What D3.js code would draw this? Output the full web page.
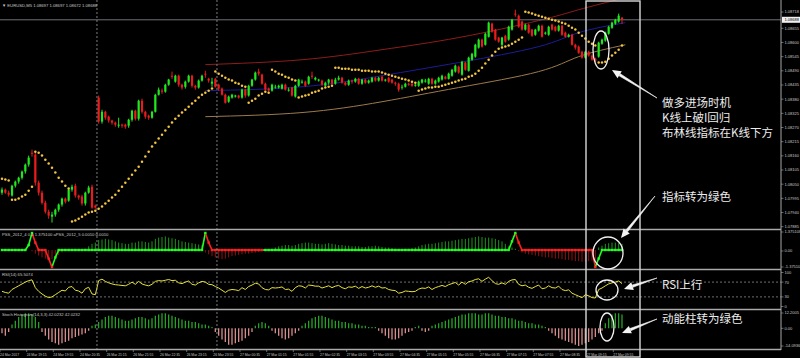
<!DOCTYPE html>
<html>
<head>
<meta charset="utf-8">
<script src="https://cdn.jsdelivr.net/npm/d3@7"></script>
<style>
html, body { margin: 0; padding: 0; background: #000; }
svg { display: block; }
</style>
</head>
<body>
<div id="chart"></div>
<script>
'use strict';

// EURUSD M5 bars: [open, high, low, close]
var candles = [
[1.08017,1.08037,1.08009,1.08029],[1.08029,1.08033,1.08013,1.08017],[1.08017,1.08025,1.08002,1.08009],[1.08006,1.08048,1.08002,1.08044],
[1.08044,1.08064,1.08037,1.08060],[1.08060,1.08079,1.08052,1.08075],[1.08075,1.08103,1.08068,1.08099],[1.08099,1.08130,1.08091,1.08126],
[1.08126,1.08161,1.08118,1.08153],[1.08172,1.08184,1.08157,1.08168],[1.08165,1.08172,1.08044,1.08056],[1.08056,1.08064,1.08006,1.08017],
[1.08017,1.08025,1.07971,1.07978],[1.07978,1.07986,1.07936,1.07943],[1.07943,1.07951,1.07916,1.07928],[1.07924,1.07943,1.07901,1.07932],
[1.07932,1.07955,1.07924,1.07951],[1.07951,1.07975,1.07943,1.07971],[1.07971,1.07998,1.07963,1.07994],[1.07994,1.07998,1.07975,1.07982],
[1.07986,1.08033,1.07982,1.08029],[1.08029,1.08048,1.08021,1.08040],[1.08044,1.08052,1.07998,1.08006],[1.08006,1.08009,1.07990,1.07998],
[1.08002,1.08009,1.07967,1.07975],[1.07975,1.08021,1.07967,1.08017],[1.08017,1.08044,1.08013,1.08037],[1.08040,1.08048,1.07955,1.07959],
[1.07967,1.07971,1.07955,1.07959],
[1.08386,1.08394,1.08285,1.08293],[1.08293,1.08339,1.08285,1.08331],[1.08331,1.08335,1.08300,1.08308],[1.08312,1.08316,1.08289,1.08297],
[1.08297,1.08300,1.08281,1.08289],[1.08289,1.08293,1.08273,1.08281],[1.08277,1.08308,1.08269,1.08281],[1.08281,1.08285,1.08269,1.08277],
[1.08281,1.08285,1.08265,1.08273],[1.08277,1.08304,1.08269,1.08300],[1.08300,1.08339,1.08293,1.08335],[1.08335,1.08339,1.08297,1.08304],
[1.08304,1.08378,1.08297,1.08374],[1.08374,1.08382,1.08324,1.08331],[1.08331,1.08335,1.08304,1.08312],[1.08316,1.08320,1.08300,1.08308],
[1.08308,1.08335,1.08304,1.08331],[1.08331,1.08401,1.08328,1.08397],[1.08397,1.08425,1.08394,1.08417],[1.08413,1.08421,1.08401,1.08409],
[1.08409,1.08440,1.08405,1.08436],[1.08436,1.08459,1.08432,1.08456],[1.08471,1.08487,1.08459,1.08467],[1.08448,1.08475,1.08444,1.08471],
[1.08471,1.08475,1.08428,1.08436],[1.08436,1.08440,1.08417,1.08425],[1.08428,1.08452,1.08421,1.08448],[1.08448,1.08475,1.08444,1.08471],
[1.08471,1.08475,1.08425,1.08432],[1.08432,1.08436,1.08417,1.08425],[1.08425,1.08456,1.08421,1.08452],[1.08452,1.08475,1.08448,1.08471],
[1.08479,1.08490,1.08463,1.08475],[1.08459,1.08463,1.08444,1.08452],[1.08440,1.08463,1.08428,1.08448],[1.08459,1.08463,1.08425,1.08428],
[1.08436,1.08440,1.08413,1.08421],[1.08421,1.08425,1.08394,1.08397],[1.08397,1.08401,1.08363,1.08366],[1.08370,1.08394,1.08366,1.08390],
[1.08386,1.08401,1.08382,1.08397],[1.08390,1.08397,1.08386,1.08394],[1.08394,1.08397,1.08382,1.08386],[1.08386,1.08421,1.08382,1.08417],
[1.08417,1.08421,1.08386,1.08394],[1.08394,1.08436,1.08390,1.08432],[1.08432,1.08459,1.08428,1.08456],[1.08456,1.08487,1.08452,1.08483],
[1.08487,1.08498,1.08471,1.08479],[1.08475,1.08479,1.08436,1.08440],[1.08440,1.08444,1.08413,1.08417],[1.08421,1.08425,1.08409,1.08413],
[1.08413,1.08440,1.08409,1.08436],[1.08425,1.08436,1.08421,1.08428],[1.08425,1.08436,1.08421,1.08432],[1.08421,1.08440,1.08417,1.08436],
[1.08436,1.08440,1.08413,1.08417],[1.08413,1.08425,1.08409,1.08417],[1.08425,1.08428,1.08390,1.08394],[1.08390,1.08436,1.08386,1.08432],
[1.08432,1.08459,1.08428,1.08456],[1.08444,1.08456,1.08440,1.08448],[1.08448,1.08452,1.08428,1.08432],[1.08440,1.08471,1.08436,1.08467],
[1.08471,1.08487,1.08459,1.08467],[1.08456,1.08467,1.08452,1.08463],[1.08452,1.08459,1.08448,1.08456],[1.08452,1.08456,1.08432,1.08436],
[1.08432,1.08448,1.08428,1.08444],[1.08444,1.08459,1.08436,1.08456],[1.08456,1.08459,1.08436,1.08440],[1.08440,1.08463,1.08436,1.08456],
[1.08456,1.08471,1.08452,1.08463],[1.08463,1.08467,1.08440,1.08444],[1.08444,1.08448,1.08432,1.08436],[1.08436,1.08456,1.08432,1.08452],
[1.08452,1.08456,1.08440,1.08448],[1.08448,1.08463,1.08444,1.08459],[1.08459,1.08463,1.08436,1.08440],[1.08440,1.08459,1.08436,1.08456],
[1.08456,1.08459,1.08440,1.08444],[1.08444,1.08456,1.08440,1.08452],[1.08448,1.08467,1.08444,1.08463],[1.08463,1.08467,1.08448,1.08452],
[1.08452,1.08467,1.08448,1.08463],[1.08467,1.08471,1.08448,1.08452],[1.08452,1.08459,1.08448,1.08456],[1.08463,1.08467,1.08444,1.08448],
[1.08456,1.08459,1.08440,1.08444],[1.08444,1.08448,1.08432,1.08440],[1.08440,1.08444,1.08409,1.08417],[1.08425,1.08436,1.08417,1.08428],
[1.08428,1.08444,1.08425,1.08440],[1.08440,1.08444,1.08432,1.08436],[1.08440,1.08444,1.08428,1.08432],[1.08432,1.08440,1.08428,1.08436],
[1.08432,1.08452,1.08428,1.08448],[1.08444,1.08459,1.08440,1.08456],[1.08448,1.08459,1.08444,1.08452],[1.08440,1.08463,1.08436,1.08459],
[1.08459,1.08463,1.08436,1.08440],[1.08440,1.08456,1.08436,1.08452],[1.08448,1.08467,1.08444,1.08463],[1.08456,1.08475,1.08452,1.08471],
[1.08467,1.08471,1.08456,1.08459],[1.08459,1.08483,1.08456,1.08479],[1.08471,1.08498,1.08467,1.08494],[1.08487,1.08514,1.08483,1.08510],
[1.08506,1.08510,1.08479,1.08483],[1.08475,1.08529,1.08471,1.08525],[1.08522,1.08525,1.08490,1.08494],[1.08490,1.08545,1.08487,1.08541],
[1.08533,1.08560,1.08529,1.08556],[1.08545,1.08595,1.08541,1.08591],[1.08580,1.08615,1.08576,1.08611],[1.08611,1.08615,1.08580,1.08584],
[1.08591,1.08638,1.08588,1.08634],[1.08622,1.08681,1.08619,1.08677],[1.08673,1.08677,1.08638,1.08642],[1.08650,1.08653,1.08607,1.08611],
[1.08619,1.08622,1.08599,1.08603],[1.08591,1.08622,1.08584,1.08619],[1.08626,1.08630,1.08599,1.08603],[1.08611,1.08665,1.08607,1.08661],
[1.08650,1.08692,1.08646,1.08688],[1.08712,1.08727,1.08700,1.08708],[1.08704,1.08708,1.08657,1.08661],[1.08681,1.08685,1.08646,1.08650],
[1.08650,1.08673,1.08646,1.08669],[1.08669,1.08673,1.08634,1.08638],[1.08650,1.08653,1.08622,1.08626],[1.08630,1.08653,1.08626,1.08650],
[1.08646,1.08669,1.08642,1.08665],[1.08665,1.08669,1.08619,1.08622],[1.08634,1.08642,1.08630,1.08638],[1.08630,1.08665,1.08626,1.08661],
[1.08669,1.08673,1.08646,1.08650],[1.08661,1.08665,1.08642,1.08646],[1.08646,1.08669,1.08642,1.08665],[1.08665,1.08669,1.08626,1.08630],
[1.08638,1.08642,1.08619,1.08622],[1.08622,1.08634,1.08619,1.08630],[1.08630,1.08634,1.08588,1.08591],[1.08591,1.08595,1.08572,1.08580],
[1.08584,1.08588,1.08556,1.08560],[1.08564,1.08568,1.08537,1.08541],[1.08541,1.08568,1.08537,1.08564],[1.08564,1.08568,1.08545,1.08549],
[1.08549,1.08553,1.08529,1.08533],[1.08537,1.08541,1.08522,1.08529],[1.08545,1.08603,1.08541,1.08599],[1.08595,1.08615,1.08591,1.08611],
[1.08607,1.08642,1.08603,1.08638],[1.08634,1.08665,1.08630,1.08661],[1.08657,1.08681,1.08653,1.08677],[1.08673,1.08692,1.08669,1.08688],
[1.08681,1.08712,1.08677,1.08704],[1.08697,1.08697,1.08672,1.08688]
];

// Parabolic SAR, one value per bar
var sar = [
1.08071,1.08068,1.08064,1.07990,1.07990,1.07994,1.08002,1.08009,1.08025,1.08040,
1.08176,1.08172,1.08161,1.08145,1.08130,1.08114,1.08095,1.08075,1.08060,1.08044,1.08033,
1.07905,1.07909,1.07916,1.07924,1.07932,1.07940,1.07943,1.07947,
1.07955,1.07963,1.07975,1.07986,1.07998,1.08009,1.08025,1.08040,1.08056,1.08071,1.08087,1.08103,1.08118,1.08137,
1.08157,1.08176,1.08196,1.08211,1.08227,1.08242,1.08258,1.08273,1.08289,1.08304,1.08316,1.08328,1.08339,1.08351,
1.08363,1.08374,1.08386,1.08397,1.08405,1.08413,1.08421,
1.08487,1.08479,1.08471,1.08463,1.08456,1.08452,1.08444,1.08440,1.08432,1.08428,
1.08366,1.08374,1.08382,1.08394,1.08401,1.08409,1.08405,
1.08494,1.08487,1.08479,1.08475,1.08467,1.08463,1.08456,1.08452,
1.08386,1.08390,1.08394,1.08397,1.08405,1.08409,1.08413,1.08421,1.08425,1.08428,1.08432,
1.08502,1.08502,1.08498,1.08498,1.08498,1.08494,1.08494,1.08494,1.08490,1.08490,1.08490,1.08487,1.08487,1.08487,
1.08483,1.08479,1.08475,1.08471,1.08467,1.08463,1.08459,1.08456,1.08452,1.08448,1.08444,
1.08413,1.08417,1.08421,1.08425,1.08425,1.08428,1.08428,1.08432,1.08436,1.08440,1.08444,1.08448,1.08452,1.08456,
1.08459,1.08467,1.08471,1.08479,1.08490,1.08502,1.08518,1.08533,1.08549,1.08564,1.08576,1.08580,1.08584,1.08588,
1.08595,1.08603,1.08611,1.08619,
1.08719,1.08716,1.08712,1.08708,1.08704,1.08700,1.08696,1.08692,1.08688,1.08685,1.08681,1.08677,1.08673,1.08665,
1.08657,1.08650,1.08638,1.08626,1.08615,1.08603,1.08595,1.08588,
1.08522,1.08522,1.08525,1.08537,1.08549,1.08560,1.08572,1.08588
];

// curved channel: [bar, price]
var channelUpper = [[61,1.08514],[90,1.08533],[114,1.08572],[137,1.08619],[161,1.08685],[173,1.08727],[187,1.08774]];
var channelMid   = [[61,1.08413],[90,1.08428],[114,1.08471],[137,1.08522],[161,1.08584],[173,1.08638],[187,1.08677]];
var channelLower = [[61,1.08312],[90,1.08328],[114,1.08370],[137,1.08425],[161,1.08487],[173,1.08545],[187,1.08591]];

// PSS sub-window: histogram and signal line
var pssHist = [
0,0,0,0,0,0,0,0,0,
-0.1,-0.3,-0.45,-0.6,-0.7,-0.8,-0.75,-0.6,-0.4,-0.2,
0,0,0,0,0,0,0.1,
0.3,0.5,0.6,0.8,0.85,0.9,0.85,0.8,0.7,0.6,0.55,0.5,0.5,0.6,0.6,0.7,0.7,0.65,0.6,0.7,
0.9,1.0,1.05,1.1,1.0,0.95,0.9,0.8,0.7,0.65,0.6,0.55,0.5,0.45,0.4,
-0.2,-0.35,-0.5,-0.6,-0.7,-0.75,-0.7,-0.6,-0.5,-0.45,-0.4,-0.35,-0.3,-0.3,-0.25,-0.2,-0.15,-0.1,-0.1,-0.05,
0.1,0.2,0.3,0.35,0.4,0.4,0.35,0.4,0.5,0.55,0.6,0.6,0.55,0.5,0.5,0.45,0.5,0.55,0.5,0.45,
0.4,0.4,0.35,0.35,0.3,0.3,0.3,0.25,0.25,0.3,0.3,0.35,0.3,0.25,0.2,0.2,0.15,0.1,0.05,0.05,
0.1,0.1,0.15,0.2,0.3,0.4,0.45,0.5,0.5,0.55,0.6,0.65,0.7,0.7,0.75,0.8,0.85,0.9,0.9,0.95,
1.0,1.05,1.1,1.05,1.0,1.0,0.95,0.9,0.8,0.7,
0.5,0.3,0.2,0.1,-0.1,-0.2,-0.3,-0.35,-0.4,-0.45,-0.5,-0.55,-0.6,-0.6,-0.65,-0.7,-0.7,-0.75,-0.8,-0.8,
-0.85,-0.9,-0.9,-0.95,-0.95,-0.9,-0.85,-0.8,
0.2,0.35,0.5,0.55,0.6,0.6,0.55,0.5
];
var pssLine = [
0,0,0,0,0,0,0,0,0.4,1.375,0.6,0,0,0,-0.7,-1.375,-0.6,
0,0,0,0,0,0,0,0,0,0,0,0,0,0,0,0,0,0,0,0,0,0,0,0,0,0,0,0,0,0,0,0,0,0,0,0,0,0,0,0,0,0,0,0,
1.375,0.6,
0,0,0,0,0,0,0,0,0,0,0,0,0,0,0,0,0,0,0,0,0,0,0,0,0,0,0,0,0,0,0,0,0,0,0,0,0,0,0,0,0,0,0,0,0,
0,0,0,0,0,0,0,0,0,0,0,0,0,0,0,0,0,0,0,0,0,0,0,0,0,0,0,0,0,0,0,0,0,0,0,0,0,0,0,0,0,0,0,0,0,
0.7,1.375,0.6,
0,0,0,0,0,0,0,0,0,0,0,0,0,0,0,0,0,0,0,0,0,0,
-1.375,-0.69,
0,0,0,0,0,0,0
];
var pssRedBars = [[10,15],[62,78],[155,178]];

var rsi = [
45,42,40,50,55,60,65,70,74,
76,55,45,38,32,28,30,36,42,48,46,56,
58,48,46,40,52,56,38,36,
74,78,72,68,65,63,62,61,60,64,70,64,
72,65,62,60,64,72,74,73,75,77,74,75,68,66,70,73,64,62,68,72,
70,64,63,58,54,48,42,48,50,49,47,55,50,58,62,67,65,55,50,49,
55,54,55,57,50,51,45,55,60,59,54,62,61,59,59,54,57,60,55,59,
61,55,52,57,56,59,53,58,54,56,60,56,59,54,55,50,48,47,40,42,
46,45,44,45,51,54,53,57,50,55,58,61,58,63,66,69,62,70,64,71,
73,77,79,72,78,83,74,66,64,68,64,72,76,77,64,60,62,56,53,58,
62,52,54,60,55,54,59,50,47,49,40,36,32,28,36,33,28,27,50,54,
60,65,68,70,73,66
];
var rsiLevels = [70, 30];

var stochHist = [
-4,-6,-3,
3,6,9,11,12,12,11,9,5,
-3,-6,-9,-11,-12,-13,-12,-11,-10,-8,-7,-6,-5,-4,-2,
2,3,5,7,9,10,10,9,8,7,6,6,7,8,9,9,8,7,8,10,11,12,12,11,10,9,8,7,6,6,5,5,4,3,3,2,1,
-3,-6,-9,-11,-13,-13,-12,-11,-10,-8,-6,-3,
2,4,5,4,2,
-2,-4,-6,-8,-9,-8,-6,-4,-2,
2,4,6,8,9,10,10,9,8,7,6,6,5,5,4,4,3,3,2,2,1,1,1,
-2,-4,-6,-8,-9,-9,-8,-6,
-4,-3,-2,1,2,-2,-3,-2,
2,3,4,5,6,7,8,9,10,11,11,12,12,12,11,11,12,12,11,10,10,9,9,8,8,7,6,6,5,4,4,3,3,2,1,
-2,-4,-6,-8,-9,-10,-11,-12,-13,-14,-13,-12,-11,-9,-7,-4,-2,
4,8,11,12,12,11
];

var priceTicks = [1.08655,1.08600,1.08545,1.08490,1.08435,1.08380,1.08325,1.08270,1.08215,1.08160,1.08105,1.08050,1.07995,1.07940,1.07885];
var priceTop = 1.08718;
var lastPrice = 1.08688;
var separatorBars = [29, 65];
var timeLabels = ["24 Mar 2017","24 Mar 19:15","24 Mar 19:55","24 Mar 20:35","26 Mar 21:15","26 Mar 21:55","26 Mar 22:35",
  "26 Mar 23:15","26 Mar 23:55","27 Mar 00:35","27 Mar 01:15","27 Mar 01:55","27 Mar 02:35","27 Mar 03:15","27 Mar 03:55",
  "27 Mar 04:35","27 Mar 05:15","27 Mar 05:55","27 Mar 06:35","27 Mar 07:15","27 Mar 07:55","27 Mar 08:35","27 Mar 09:15","27 Mar 09:55"];
var timeLabelStep = 8;

var W = 800, H = 358, plotRight = 781;
var grey = '#a9a9a9', label = '#c8c8c8';
var font = '"Liberation Sans", Arial, sans-serif';
var cjk = '"Noto Sans CJK SC", sans-serif';

var svg = d3.select('#chart').append('svg')
	.attr('width', W)
	.attr('height', H)
	.style('background', '#000');

var x = d3.scaleLinear().domain([0, candles.length - 1]).range([2, 622]);
var yMain = d3.scaleLinear().domain([1.07885, 1.08655]).range([226.7, 28.3]);
var yPss = d3.scaleLinear().domain([-1.375, 1.375]).range([267, 233]);
var yRsi = d3.scaleLinear().domain([0, 100]).range([308, 271]);
var yStoch = d3.scaleLinear().domain([-14.0936, 12.2005]).range([346, 313]);

function clip(id, y0, y1) {
	svg.append('clipPath').attr('id', id).append('rect')
		.attr('x', 0).attr('y', y0).attr('width', plotRight).attr('height', y1 - y0);
	return 'url(#' + id + ')';
}

// ---- main window
var main = svg.append('g').attr('clip-path', clip('cMain', 0, 229));

var curve = d3.line()
	.x(function(d) { return x(d[0]); })
	.y(function(d) { return yMain(d[1]); })
	.curve(d3.curveNatural);

[[channelUpper, '#8e1c1c'], [channelMid, '#1c1c9a'], [channelLower, '#9c7a4c']].forEach(function(c) {
	main.append('path').attr('d', curve(c[0]))
		.style('fill', 'none').style('stroke', c[1]).style('stroke-width', 1);
});

main.append('line')
	.attr('x1', 0).attr('x2', plotRight)
	.attr('y1', yMain(lastPrice)).attr('y2', yMain(lastPrice))
	.style('stroke', '#707078').style('stroke-width', 1);

var bull = '#1fe81f', bear = '#e81c1c';
var bars = main.selectAll('g.bar')
	.data(candles)
	.enter().append('g').attr('class', 'bar');

bars.append('line')
	.attr('x1', function(d, i) { return x(i); })
	.attr('x2', function(d, i) { return x(i); })
	.attr('y1', function(d) { return yMain(d[1]); })
	.attr('y2', function(d) { return yMain(d[2]); })
	.style('stroke', function(d) { return d[3] >= d[0] ? bull : bear; })
	.style('stroke-width', 1);

bars.append('rect')
	.attr('x', function(d, i) { return x(i) - 1.1; })
	.attr('width', 2.2)
	.attr('y', function(d) { return yMain(Math.max(d[0], d[3])); })
	.attr('height', function(d) { return Math.max(0.8, Math.abs(yMain(d[0]) - yMain(d[3]))); })
	.style('fill', function(d) { return d[3] >= d[0] ? bull : bear; });

main.selectAll('circle.sar')
	.data(sar)
	.enter().append('circle')
		.attr('class', 'sar')
		.attr('cx', function(d, i) { return x(i); })
		.attr('cy', function(d) { return yMain(d); })
		.attr('r', 1.25)
		.style('fill', '#f3c441');

// ---- PSS window
var pss = svg.append('g').attr('clip-path', clip('cPss', 231, 269));
function isRed(i) {
	return pssRedBars.some(function(r) { return i >= r[0] && i <= r[1]; });
}
pss.selectAll('line.h')
	.data(pssHist)
	.enter().append('line')
		.attr('x1', function(d, i) { return x(i); })
		.attr('x2', function(d, i) { return x(i); })
		.attr('y1', yPss(0))
		.attr('y2', function(d) { return yPss(d); })
		.style('stroke', function(d) { return d >= 0 ? '#1c961c' : '#8e1414'; })
		.style('stroke-width', 1);

pss.selectAll('line.s')
	.data(pssLine.slice(1))
	.enter().append('line')
		.attr('x1', function(d, i) { return x(i); })
		.attr('x2', function(d, i) { return x(i + 1); })
		.attr('y1', function(d, i) { return yPss(pssLine[i]); })
		.attr('y2', function(d) { return yPss(d); })
		.style('stroke', function(d, i) { return isRed(i + 1) ? '#ff2020' : '#20ff20'; })
		.style('stroke-width', 1.6);

pss.selectAll('rect.s')
	.data(pssLine)
	.enter().append('rect')
		.attr('x', function(d, i) { return x(i) - 1.2; })
		.attr('y', function(d) { return yPss(d) - 1.2; })
		.attr('width', 2.4).attr('height', 2.4)
		.style('fill', function(d, i) { return isRed(i) ? '#ff2020' : '#20ff20'; });

// ---- RSI window
var rsiG = svg.append('g').attr('clip-path', clip('cRsi', 271, 309));
rsiLevels.forEach(function(v) {
	rsiG.append('line')
		.attr('x1', 0).attr('x2', plotRight)
		.attr('y1', yRsi(v)).attr('y2', yRsi(v))
		.style('stroke', '#8c8c8c').style('stroke-dasharray', '2,2').style('stroke-width', 0.8);
});
rsiG.append('path')
	.attr('d', d3.line()
		.x(function(d, i) { return x(i); })
		.y(function(d) { return yRsi(d); })(rsi))
	.style('fill', 'none').style('stroke', '#e6e23a').style('stroke-width', 1);

// ---- Stoch histogram window
var st = svg.append('g').attr('clip-path', clip('cSt', 311, 349));
st.selectAll('line.h')
	.data(stochHist)
	.enter().append('line')
		.attr('x1', function(d, i) { return x(i); })
		.attr('x2', function(d, i) { return x(i); })
		.attr('y1', yStoch(0))
		.attr('y2', function(d) { return yStoch(d); })
		.style('stroke', function(d) { return d >= 0 ? '#2aa02a' : '#d98e8e'; })
		.style('stroke-width', 1.3);

// ---- frame, separators
separatorBars.forEach(function(b) {
	svg.append('line')
		.attr('x1', x(b) - 1.7).attr('x2', x(b) - 1.7)
		.attr('y1', 0).attr('y2', 349)
		.style('stroke', '#9a9a9a').style('stroke-dasharray', '2,2').style('stroke-width', 0.8);
});
[229.5, 269.5, 309.5, 349.5].forEach(function(y) {
	svg.append('line').attr('x1', 0).attr('x2', plotRight).attr('y1', y).attr('y2', y)
		.style('stroke', grey).style('stroke-width', 1.6);
});
svg.append('line').attr('x1', plotRight).attr('x2', plotRight).attr('y1', 0).attr('y2', 350)
	.style('stroke', grey).style('stroke-width', 1);

// ---- price axis
var axisG = svg.append('g').style('font-family', font).style('font-size', '4px').style('fill', label);
priceTicks.concat([priceTop]).forEach(function(p) {
	axisG.append('line').attr('x1', plotRight).attr('x2', plotRight + 2.5)
		.attr('y1', yMain(p)).attr('y2', yMain(p)).style('stroke', grey).style('stroke-width', 0.6);
	axisG.append('text').attr('x', plotRight + 3.5).attr('y', yMain(p) + 1.4).text(d3.format('.5f')(p));
});
axisG.append('rect').attr('x', plotRight + 1).attr('y', yMain(lastPrice) - 3).attr('width', 18).attr('height', 6)
	.style('fill', '#f0f0f0');
axisG.append('text').attr('x', plotRight + 3.5).attr('y', yMain(lastPrice) + 1.4)
	.style('fill', '#000').text(d3.format('.5f')(lastPrice));

function sideLabel(y, t) {
	axisG.append('line').attr('x1', plotRight).attr('x2', plotRight + 2.5)
		.attr('y1', y).attr('y2', y).style('stroke', grey).style('stroke-width', 0.6);
	axisG.append('text').attr('x', plotRight + 3.5).attr('y', y + 1.4).text(t);
}
sideLabel(yPss(1.375) - 1, '1.375108');
sideLabel(yPss(0) + 1, '0.00');
sideLabel(yPss(-1.375), '-1.37510');
sideLabel(yRsi(100) + 1.5, '100');
sideLabel(yRsi(70), '70');
sideLabel(yRsi(30), '30');
sideLabel(yRsi(0) - 1.5, '0');
sideLabel(yStoch(12.2005), '12.2005');
sideLabel(yStoch(0), '0.00');
sideLabel(yStoch(-14.0936), '-14.0936');

// ---- time axis
var timeG = svg.append('g').style('font-family', font).style('font-size', '3.4px').style('fill', label);
timeLabels.forEach(function(t, k) {
	var bx = x(k * timeLabelStep) - 2;
	timeG.append('line').attr('x1', bx).attr('x2', bx).attr('y1', 349.5).attr('y2', 352)
		.style('stroke', grey).style('stroke-width', 0.6);
	timeG.append('text').attr('x', bx).attr('y', 355.5).text(t);
});

// ---- window titles
var titles = svg.append('g').style('font-family', font).style('font-size', '4.2px').style('fill', label);
titles.append('text').attr('x', 2).attr('y', 7).text('\u25BC EURUSD,M5  1.08697 1.08697 1.08672 1.08688');
titles.append('text').attr('x', 2).attr('y', 236).text('PSS_2012_4 0.5 1.375100   aPSS_2012_5 0.0010 0.0010');
titles.append('text').attr('x', 2).attr('y', 276).text('RSI(14) 65.5074');
titles.append('text').attr('x', 2).attr('y', 316).text('Stoch Histogram(14,3,3) 42.0232 42.0232');

// ---- annotations
var note = svg.append('g');
note.append('rect').attr('x', 586).attr('y', 1).attr('width', 54).attr('height', 356)
	.style('fill', 'none').style('stroke', '#d8d8d8').style('stroke-width', 1.4);

[[601, 50, 8, 19], [608, 253, 15, 16], [607, 290, 11, 10], [607, 327, 7, 14]].forEach(function(e) {
	note.append('ellipse').attr('cx', e[0]).attr('cy', e[1]).attr('rx', e[2]).attr('ry', e[3])
		.style('fill', 'none').style('stroke', '#f0f0f0').style('stroke-width', 1.3);
});

function arrow(x1, y1, x2, y2) {
	var a = Math.atan2(y2 - y1, x2 - x1), len = 9, hw = 4;
	var bx = x2 - len * Math.cos(a), by = y2 - len * Math.sin(a);
	var nx = -Math.sin(a), ny = Math.cos(a);
	note.append('path')
		.attr('d', 'M' + x1 + ',' + y1 + 'L' + (bx + nx * 1.2) + ',' + (by + ny * 1.2) + 'L' + (bx - nx * 1.2) + ',' + (by - ny * 1.2) + 'Z')
		.style('fill', '#f4f4f4').style('stroke', '#f4f4f4').style('stroke-width', 0.6);
	note.append('path')
		.attr('d', 'M' + x2 + ',' + y2 + 'L' + (bx + nx * hw) + ',' + (by + ny * hw) + 'L' + (bx - nx * hw) + ',' + (by - ny * hw) + 'Z')
		.style('fill', '#f4f4f4');
}
arrow(657, 98, 612, 70);
arrow(655, 196, 621, 238);
arrow(657, 278, 624, 289);
arrow(657, 319, 622, 333);

var noteText = note.append('g').style('font-family', cjk).style('font-size', '11.5px').style('fill', '#ececec');
[[107, '做多进场时机'], [122, 'K线上破I回归'], [137, '布林线指标在K线下方'], [201, '指标转为绿色'],
 [289, 'RSI上行'], [323, '动能柱转为绿色']].forEach(function(t) {
	noteText.append('text').attr('x', 662).attr('y', t[0]).text(t[1]);
});
</script>
</body>
</html>
